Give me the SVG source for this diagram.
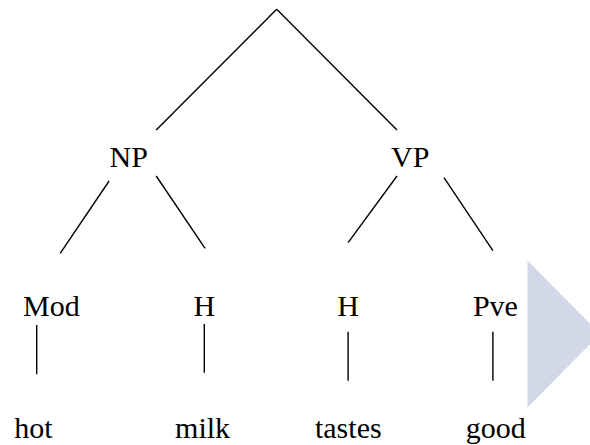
<svg xmlns="http://www.w3.org/2000/svg" width="590" height="445" viewBox="0 0 590 445">
  <style>
    .edge { stroke: #000; stroke-width: 1.4; fill: none; }
  </style>
  <rect width="590" height="445" fill="#fff"/>

  <!-- decorative arrow shape at right edge -->
  <polygon points="527.5,260.5 600,334 527.5,407.5" fill="#D3D8E8"/>

  <g id="connectors">
    <line class="edge" x1="276.7" y1="9.3" x2="156.2" y2="130"/>
    <line class="edge" x1="276.7" y1="9.3" x2="397" y2="130"/>
    <line class="edge" x1="109.1" y1="181" x2="60.2" y2="253.3"/>
    <line class="edge" x1="156.2" y1="176" x2="205.1" y2="248.3"/>
    <line class="edge" x1="397" y1="176" x2="348.1" y2="242.7"/>
    <line class="edge" x1="444" y1="177.7" x2="492.9" y2="250.7"/>
    <line class="edge" x1="36.7" y1="325" x2="36.7" y2="374.3"/>
    <line class="edge" x1="204.3" y1="324" x2="204.3" y2="372.7"/>
    <line class="edge" x1="348.1" y1="331.7" x2="348.1" y2="380.7"/>
    <line class="edge" x1="492.9" y1="331.7" x2="492.9" y2="380.7"/>
  </g>

  <g id="np"><text x="128.7" y="167.3" font-family="'Liberation Serif'" font-size="30" text-anchor="middle">NP</text></g>
  <g id="vp"><text x="410.2" y="167.3" font-family="'Liberation Serif'" font-size="30" text-anchor="middle">VP</text></g>
  <g id="mod"><text x="51.3" y="316" font-family="'Liberation Serif'" font-size="30" text-anchor="middle">Mod</text></g>
  <g id="h-np"><text x="204.3" y="316" font-family="'Liberation Serif'" font-size="30" text-anchor="middle">H</text></g>
  <g id="h-vp"><text x="348" y="316" font-family="'Liberation Serif'" font-size="30" text-anchor="middle">H</text></g>
  <g id="pve"><text x="495.4" y="316" font-family="'Liberation Serif'" font-size="30" text-anchor="middle">Pve</text></g>
  <g id="hot"><text x="33.5" y="438.3" font-family="'Liberation Serif'" font-size="30" text-anchor="middle">hot</text></g>
  <g id="milk"><text x="202.6" y="438.3" font-family="'Liberation Serif'" font-size="30" text-anchor="middle">milk</text></g>
  <g id="tastes"><text x="348.3" y="438.3" font-family="'Liberation Serif'" font-size="30" text-anchor="middle">tastes</text></g>
  <g id="good"><text x="495.7" y="438.3" font-family="'Liberation Serif'" font-size="30" text-anchor="middle">good</text></g>
</svg>
